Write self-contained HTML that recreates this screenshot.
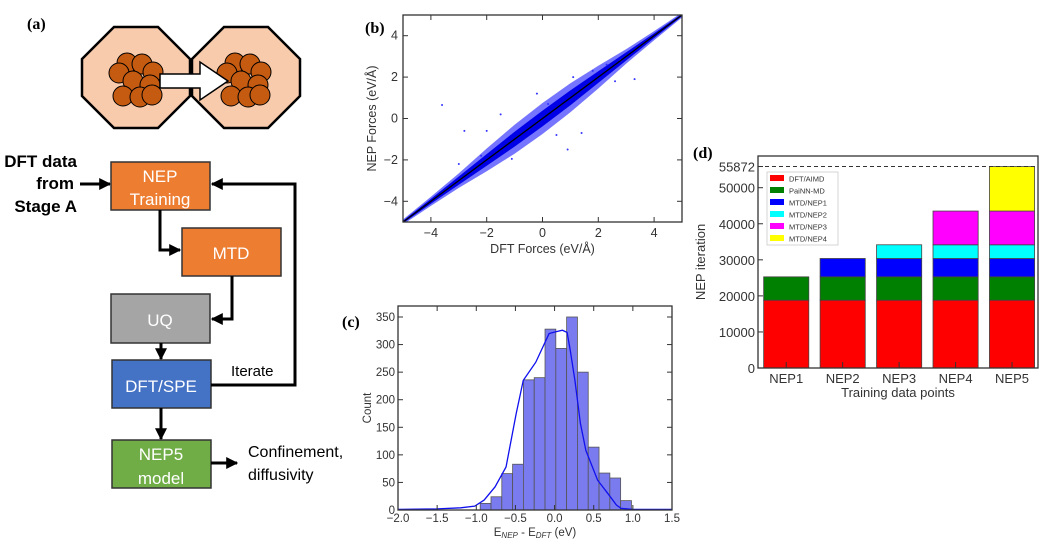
<!DOCTYPE html>
<html><head><meta charset="utf-8"><style>
body{margin:0;background:#fff;}
svg{display:block;font-family:"Liberation Sans",sans-serif;}
</style></head><body>
<svg id="fig" width="1052" height="542" viewBox="0 0 1052 542" xmlns="http://www.w3.org/2000/svg">
<defs>
<marker id="ah" viewBox="0 0 10 10" refX="9" refY="5" markerWidth="4" markerHeight="4" orient="auto"><path d="M0,0 L10,5 L0,10 z" fill="#000"/></marker>
</defs>
<g>
<text x="27" y="29" font-family="Liberation Serif" font-weight="bold" font-size="16">(a)</text>
<polygon points="114,27 158,27 190,59 190,96 158,128 114,128 82,96 82,59" fill="#f8cbad" stroke="#000" stroke-width="2.5"/>
<polygon points="224,27 268,27 300,59 300,96 268,128 224,128 192,96 192,59" fill="#f8cbad" stroke="#000" stroke-width="2.5"/>
<g id="clusters" fill="#c55a11" stroke="#000" stroke-width="1"></g>
<polygon points="160,74 200,74 200,62 228,81 200,100 200,88 160,88" fill="#fff" stroke="#000" stroke-width="1.5"/>
<text font-weight="bold" font-size="17" text-anchor="end"><tspan x="77" y="167">DFT data</tspan><tspan x="74" y="189">from</tspan><tspan x="77" y="212">Stage A</tspan></text>
<line x1="80" y1="184" x2="110" y2="184" stroke="#000" stroke-width="3" marker-end="url(#ah)"/>
<rect x="111" y="162" width="99" height="48" fill="#ed7d31" stroke="#333" stroke-width="1.5"/>
<text x="160" y="182" fill="#fff" font-size="17" text-anchor="middle">NEP</text><text x="160" y="205" fill="#fff" font-size="17" text-anchor="middle">Training</text>
<rect x="182" y="228" width="99" height="48" fill="#ed7d31" stroke="#333" stroke-width="1.5"/>
<text x="231" y="259" fill="#fff" font-size="17" text-anchor="middle">MTD</text>
<rect x="111" y="294" width="99" height="49" fill="#a5a5a5" stroke="#333" stroke-width="1.5"/>
<text x="160" y="326" fill="#fff" font-size="17" text-anchor="middle">UQ</text>
<rect x="112" y="360" width="99" height="48" fill="#4472c4" stroke="#333" stroke-width="1.5"/>
<text x="161" y="392" fill="#fff" font-size="17" text-anchor="middle">DFT/SPE</text>
<rect x="112" y="440" width="99" height="48" fill="#70ad47" stroke="#333" stroke-width="1.5"/>
<text x="161" y="460" fill="#fff" font-size="17" text-anchor="middle">NEP5</text><text x="161" y="484" fill="#fff" font-size="17" text-anchor="middle">model</text>
<g fill="none" stroke="#000" stroke-width="3">
<polyline points="160,210 160,250 180,250" marker-end="url(#ah)"/>
<polyline points="232,276 232,319 212,319" marker-end="url(#ah)"/>
<polyline points="161,343 161,359" marker-end="url(#ah)"/>
<polyline points="161,408 161,439" marker-end="url(#ah)"/>
<polyline points="211,385 295,385 295,184 212,184" marker-end="url(#ah)"/>
<polyline points="211,463 237,463" marker-end="url(#ah)"/>
</g>
<text x="231" y="376" font-size="15">Iterate</text>
<text x="248" y="457" font-size="16">Confinement,</text>
<text x="248" y="480" font-size="16">diffusivity</text>
</g>
<g id="pb"></g>
<g id="pc"></g>
<g id="pd"></g>
</svg>
<script>
const NS="http://www.w3.org/2000/svg";
function mk(p,t,a,txt){const e=document.createElementNS(NS,t);for(const k in a)e.setAttribute(k,a[k]);if(txt!==undefined)e.textContent=txt;p.appendChild(e);return e;}
const circ=[[127,63],[142,64],[153,72],[119,73],[133,81],[150,85],[123,96],[140,97],[152,95]];
const cl=document.getElementById('clusters');
circ.forEach(c=>{const e=mk(cl,'circle',{cx:c[0],cy:c[1],r:10});
const f=mk(cl,'circle',{cx:c[0]+108,cy:c[1],r:10});});

const bTicks=[-4,-2,0,2,4];
const bBandX=[-5,-4,-3,-2,-1,0,1,2,3,4,5];
const bBandOuter=[0.12,0.22,0.35,0.55,0.7,0.75,0.7,0.55,0.35,0.22,0.12];
const bBandCore=[0.06,0.12,0.2,0.28,0.36,0.38,0.36,0.28,0.2,0.12,0.06];
const bOutX=[-3.6,-2.8,-2.2,-1.5,-0.2,0.5,0.9,1.4,1.8,2.3,2.8,3.3,-1.1,0.2,-3.0,1.1,2.6,-2.0];
const bOutY=[0.65,-0.6,-1.8,0.2,1.2,-0.8,-1.5,-0.7,2.3,2.6,2.8,1.9,-1.95,0.7,-2.2,2.0,1.8,-0.6];
(function(){
const g=document.getElementById('pb');
const L=403,R=682,T=15,B=222;
const x=v=>L+(v+5)/10*(R-L), y=v=>B-(v+5)/10*(B-T);
mk(g,'text',{x:365,y:33,'font-family':'Liberation Serif','font-weight':'bold','font-size':16},'(b)');
const clip=mk(g,'clipPath',{id:'cb'});mk(clip,'rect',{x:L,y:T,width:R-L,height:B-T});
const gg=mk(g,'g',{'clip-path':'url(#cb)'});
let up=[],dn=[];bBandX.forEach((v,i)=>{up.push(x(v)+','+y(v+bBandOuter[i]));dn.unshift(x(v)+','+y(v-bBandOuter[i]));});
let e=mk(gg,'polygon',{points:up.concat(dn).join(' '),fill:'#3a3aff',opacity:0.7});
up=[];dn=[];bBandX.forEach((v,i)=>{up.push(x(v)+','+y(v+bBandCore[i]));dn.unshift(x(v)+','+y(v-bBandCore[i]));});
e=mk(gg,'polygon',{points:up.concat(dn).join(' '),fill:'#0000e6'});
bOutX.forEach((v,i)=>{const p=mk(gg,'circle',{cx:x(v),cy:y(bOutY[i]),r:1,fill:'#3333ff'});});
e=mk(gg,'line',{x1:x(-5),y1:y(-5),x2:x(5),y2:y(5),stroke:'#000','stroke-width':1.3});
mk(g,'rect',{x:L,y:T,width:R-L,height:B-T,fill:'none',stroke:'#333','stroke-width':1.3});
bTicks.forEach(t=>{mk(g,'line',{x1:x(t),y1:B,x2:x(t),y2:B-5,stroke:'#333'});mk(g,'line',{x1:x(t),y1:T,x2:x(t),y2:T+5,stroke:'#333'});
mk(g,'line',{x1:L,y1:y(t),x2:L+5,y2:y(t),stroke:'#333'});mk(g,'line',{x1:R,y1:y(t),x2:R-5,y2:y(t),stroke:'#333'});
mk(g,'text',{x:x(t),y:B+15,'font-size':12.5,'text-anchor':'middle',fill:'#333'},t<0?'\u2212'+(-t):t);
mk(g,'text',{x:L-5,y:y(t)+4,'font-size':12.5,'text-anchor':'end',fill:'#333'},t<0?'\u2212'+(-t):t);});
mk(g,'text',{x:(L+R)/2,y:253,'font-size':12.5,'text-anchor':'middle',fill:'#333'},'DFT Forces (eV/Å)');
mk(g,'text',{x:0,y:0,'font-size':12.5,'text-anchor':'middle',fill:'#333',transform:`translate(376,${(T+B)/2}) rotate(-90)`},'NEP Forces (eV/Å)');
})();

const cBinStart=-0.95, cBinW=0.138;
const cCounts=[12,24,66,83,236,240,328,293,350,250,114,67,58,17];
const cKdeX=[-2,-1.5,-1.2,-1.02,-0.9,-0.76,-0.62,-0.49,-0.4,-0.24,-0.07,0.01,0.1,0.16,0.2,0.26,0.33,0.4,0.55,0.68,0.79,0.85,1.0,1.2,1.5];
const cKdeY=[1,2,4,7,18,42,78,175,235,268,320,323,326,322,290,235,157,108,54,30,9,3,1,1,1];
const cXTicks=[-2.0,-1.5,-1.0,-0.5,0.0,0.5,1.0,1.5];
const cYTicks=[0,50,100,150,200,250,300,350];
(function(){
const g=document.getElementById('pc');
const L=398,R=672,T=306,B=510;
const x=v=>L+(v+2)/3.5*(R-L), y=v=>B-v/350*(B-317);
mk(g,'text',{x:342,y:327,'font-family':'Liberation Serif','font-weight':'bold','font-size':16},'(c)');
cCounts.forEach((c,i)=>{const x0=cBinStart+i*cBinW;const r=mk(g,'rect',{x:x(x0),y:y(c),width:x(x0+cBinW)-x(x0),height:B-y(c),fill:'#7b7bf0',stroke:'#555','stroke-width':0.8});});
const kp=mk(g,'polyline',{points:cKdeX.map((v,i)=>x(v)+','+y(cKdeY[i])).join(' '),fill:'none',stroke:'#1010ee','stroke-width':1.3});

mk(g,'rect',{x:L,y:T,width:R-L,height:B-T,fill:'none',stroke:'#333','stroke-width':1.3});
cXTicks.forEach(t=>{mk(g,'line',{x1:x(t),y1:B,x2:x(t),y2:B-5,stroke:'#333'});mk(g,'line',{x1:x(t),y1:T,x2:x(t),y2:T+5,stroke:'#333'});
mk(g,'text',{x:x(t),y:B+12,'font-size':11.5,'text-anchor':'middle',fill:'#333'},(t<0?'\u2212':'')+Math.abs(t).toFixed(1));});
cYTicks.forEach(t=>{mk(g,'line',{x1:L,y1:y(t),x2:L+5,y2:y(t),stroke:'#333'});mk(g,'line',{x1:R,y1:y(t),x2:R-5,y2:y(t),stroke:'#333'});
mk(g,'text',{x:L-3,y:y(t)+4,'font-size':11.5,'text-anchor':'end',fill:'#333'},t);});
const xl=mk(g,'text',{x:(L+R)/2,y:536,'font-size':11.5,'text-anchor':'middle',fill:'#333'});
xl.innerHTML='E<tspan font-size="8" font-style="italic" dy="2">NEP</tspan><tspan dy="-2"> - E</tspan><tspan font-size="8" font-style="italic" dy="2">DFT</tspan><tspan dy="-2"> (eV)</tspan>';
mk(g,'text',{x:0,y:0,'font-size':11.5,'text-anchor':'middle',fill:'#333',transform:`translate(371,${(T+B)/2}) rotate(-90)`},'Count');
})();

const dCats=['NEP1','NEP2','NEP3','NEP4','NEP5'];
const dSeries=['DFT/AIMD','PaiNN-MD','MTD/NEP1','MTD/NEP2','MTD/NEP3','MTD/NEP4'];
const dColors=['#ff0000','#008000','#0000ff','#00ffff','#ff00ff','#ffff00'];
const sDFT=[18800,18800,18800,18800,18800];
const sPaiNN=[6480,6480,6480,6480,6480];
const sNEP1=[0,5090,5090,5090,5090];
const sNEP2=[0,0,3800,3800,3800];
const sNEP3=[0,0,0,9350,9350];
const sNEP4=[0,0,0,0,12354];
const dYTicks=[0,10000,20000,30000,40000,50000,55872];
(function(){
const g=document.getElementById('pd');
const L=758,R=1038,T=156,B=368;
const x=v=>L+(v+0.5)/4.96*(R-L), y=v=>B-v/50000*(B-187.7);
mk(g,'text',{x:693,y:158,'font-family':'Liberation Serif','font-weight':'bold','font-size':16},'(d)');
const all=[sDFT,sPaiNN,sNEP1,sNEP2,sNEP3,sNEP4];
dCats.forEach((c,i)=>{let base=0;all.forEach((s,k)=>{if(s[i]>0){const r=mk(g,'rect',{x:x(i-0.4),y:y(base+s[i]),width:x(i+0.4)-x(i-0.4),height:y(base)-y(base+s[i]),fill:dColors[k],stroke:'#444','stroke-width':0.8});}base+=s[i];});
mk(g,'line',{x1:x(i),y1:B,x2:x(i),y2:B-6,stroke:'#333'});
mk(g,'text',{x:x(i),y:B+15,'font-size':13,'text-anchor':'middle',fill:'#333'},c);});
const tot=dCats.map((c,i)=>all.reduce((a,s)=>a+s[i],0));
const mx=Math.max(...tot);
const dl=mk(g,'line',{x1:L,y1:y(mx),x2:R,y2:y(mx),stroke:'#333','stroke-dasharray':'4,3'});
mk(g,'rect',{x:L,y:T,width:R-L,height:B-T,fill:'none',stroke:'#333','stroke-width':1.3});
dYTicks.forEach(t=>{mk(g,'line',{x1:L,y1:y(t),x2:L+5,y2:y(t),stroke:'#333'});
mk(g,'text',{x:L-3,y:y(t)+5,'font-size':13,'text-anchor':'end',fill:'#333'},t);});
mk(g,'text',{x:(L+R)/2,y:397,'font-size':13,'text-anchor':'middle',fill:'#333'},'Training data points');
mk(g,'text',{x:0,y:0,'font-size':13,'text-anchor':'middle',fill:'#333',transform:`translate(705,${(T+B)/2}) rotate(-90)`},'NEP iteration');
const lg=mk(g,'g',{});
mk(lg,'rect',{x:767,y:172,width:71,height:73,fill:'#fff',stroke:'#ccc','stroke-width':0.8});
dSeries.forEach((s,k)=>{mk(lg,'rect',{x:770,y:175+k*12,width:14,height:6,fill:dColors[k]});
const t=mk(lg,'text',{x:789,y:181.5+k*12,'font-size':7.5,fill:'#333'},s);});
})();
</script>
</body></html>
